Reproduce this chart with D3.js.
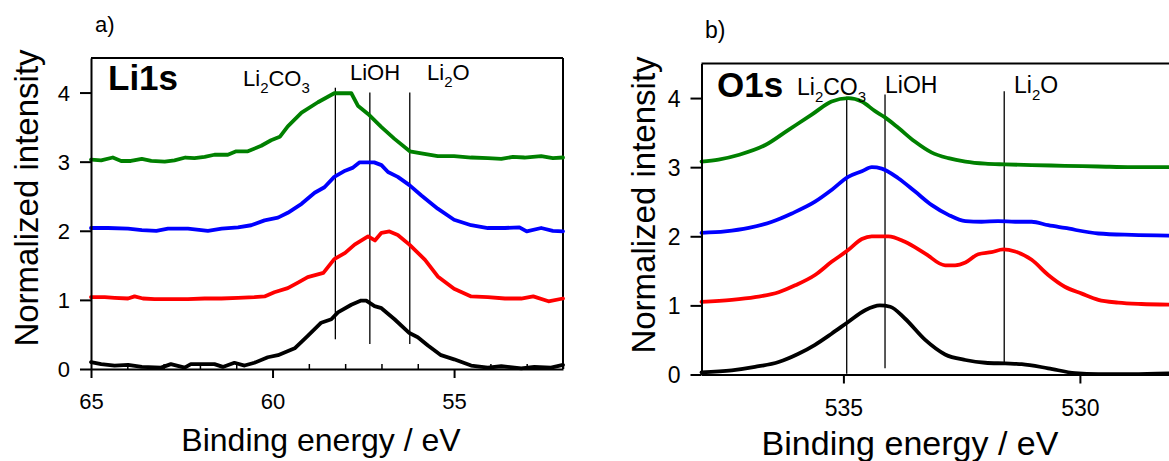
<!DOCTYPE html>
<html>
<head>
<meta charset="utf-8">
<script src="https://cdn.jsdelivr.net/npm/d3@7"></script>
<style>
  html, body { margin: 0; padding: 0; background: #fff; }
  svg { display: block; }
  text { font-family: "Liberation Sans", Arial, sans-serif; fill: #000; }
</style>
</head>
<body>
<svg id="chart" width="1169" height="461"></svg>
<script>
// ---- Li 1s spectra (binding energy in eV, normalized intensity with stacking offset) ----
const li1sBlackE = [65, 64.72, 64.35, 63.98, 63.6, 63.07, 62.8, 62.42, 62.25, 61.87, 61.6, 61.37, 61.05, 60.77, 60.5, 60.13, 59.85, 59.39, 59.03, 58.66, 58.38, 58.2, 57.83, 57.56, 57.42, 57.19, 57.0, 56.64, 56.23, 56.0, 55.72, 55.36, 55.0, 54.53, 54.07, 53.7, 53.15, 52.79, 52.33, 52.0];
const li1sBlackI = [0.10, 0.07, 0.05, 0.06, 0.03, 0.02, 0.07, 0.02, 0.07, 0.07, 0.07, 0.03, 0.09, 0.05, 0.09, 0.17, 0.20, 0.30, 0.48, 0.67, 0.72, 0.82, 0.93, 0.99, 0.99, 0.91, 0.88, 0.72, 0.52, 0.46, 0.34, 0.20, 0.14, 0.05, 0.02, 0.04, 0.01, 0.03, 0.02, 0.06];

const li1sRedE = [65, 64.62, 64.35, 63.98, 63.8, 63.57, 63.25, 62.8, 62.33, 61.87, 61.41, 60.95, 60.5, 60.22, 59.95, 59.58, 59.3, 59.03, 58.6, 58.3, 58.0, 57.74, 57.37, 57.18, 57.0, 56.78, 56.55, 56.23, 55.8, 55.45, 55.0, 54.53, 54.07, 53.6, 53.15, 52.82, 52.4, 52.0];
const li1sRedI = [1.04, 1.04, 1.03, 1.02, 1.05, 1.02, 1.01, 1.01, 1.01, 1.02, 1.02, 1.03, 1.04, 1.05, 1.11, 1.17, 1.25, 1.33, 1.39, 1.59, 1.68, 1.80, 1.92, 1.86, 1.97, 1.99, 1.94, 1.80, 1.58, 1.34, 1.16, 1.05, 1.04, 1.02, 1.02, 1.05, 0.98, 1.02];

const li1sBlueE = [65, 64.53, 63.98, 63.6, 63.2, 62.88, 62.33, 61.78, 61.4, 60.95, 60.59, 60.22, 59.85, 59.58, 59.2, 58.84, 58.57, 58.3, 58.0, 57.8, 57.6, 57.2, 57.0, 56.82, 56.55, 56.23, 55.9, 55.45, 55.0, 54.53, 54.07, 53.6, 53.2, 53.0, 52.6, 52.28, 52.0];
const li1sBlueI = [2.04, 2.04, 2.03, 2.01, 2.0, 2.03, 2.03, 2.0, 2.03, 2.05, 2.08, 2.15, 2.19, 2.26, 2.39, 2.55, 2.63, 2.78, 2.87, 2.91, 2.99, 2.99, 2.95, 2.85, 2.78, 2.66, 2.51, 2.32, 2.16, 2.08, 2.04, 2.04, 2.05, 1.99, 2.04, 2.0, 1.99];

const li1sGreenE = [65, 64.72, 64.4, 64.17, 63.9, 63.6, 63.34, 62.97, 62.7, 62.4, 62.15, 61.87, 61.6, 61.23, 61.0, 60.68, 60.31, 60.04, 59.8, 59.58, 59.2, 58.75, 58.3, 57.83, 57.65, 57.37, 57.0, 56.64, 56.22, 55.9, 55.45, 55.0, 54.53, 54.07, 53.7, 53.38, 53.06, 52.6, 52.28, 52.0];
const li1sGreenI = [3.03, 3.02, 3.06, 3.01, 3.01, 3.04, 3.01, 3.0, 3.02, 3.06, 3.05, 3.07, 3.10, 3.10, 3.15, 3.15, 3.23, 3.31, 3.36, 3.51, 3.71, 3.86, 3.99, 3.99, 3.81, 3.69, 3.50, 3.33, 3.15, 3.12, 3.08, 3.08, 3.06, 3.05, 3.04, 3.07, 3.06, 3.08, 3.05, 3.06];

// ---- O 1s spectra ----
const o1sBlackE = [538, 537.36, 536.87, 536.37, 535.95, 535.6, 535.25, 534.9, 534.54, 534.23, 534.01, 533.7, 533.27, 532.85, 532.42, 532.0, 531.58, 531.23, 530.67, 530.1, 529.61, 528.9, 528.13];
const o1sBlackI = [0.03, 0.06, 0.11, 0.18, 0.30, 0.43, 0.59, 0.76, 0.93, 1.0, 0.98, 0.81, 0.50, 0.29, 0.21, 0.17, 0.16, 0.15, 0.09, 0.02, 0.005, 0.005, 0.015];

const o1sRedE = [538, 537.36, 536.87, 536.37, 536.02, 535.6, 535.25, 534.9, 534.61, 534.4, 534.05, 533.7, 533.27, 532.85, 532.64, 532.42, 532.15, 531.87, 531.62, 531.37, 531.02, 530.67, 530.32, 529.96, 529.61, 529.19, 528.7, 528.13];
const o1sRedI = [1.05, 1.08, 1.12, 1.19, 1.29, 1.44, 1.63, 1.80, 1.96, 2.0, 2.0, 1.92, 1.75, 1.58, 1.58, 1.62, 1.74, 1.77, 1.81, 1.78, 1.66, 1.44, 1.27, 1.17, 1.08, 1.04, 1.02, 1.01];

const o1sBlueE = [538, 537.5, 537.0, 536.51, 536.09, 535.6, 535.25, 534.9, 534.61, 534.4, 534.19, 533.84, 533.49, 533.13, 532.78, 532.42, 532.08, 531.73, 531.37, 531.02, 530.67, 530.32, 529.61, 528.9, 528.13];
const o1sBlueI = [2.05, 2.07, 2.12, 2.21, 2.33, 2.5, 2.67, 2.86, 2.94, 3.0, 2.98, 2.84, 2.65, 2.45, 2.31, 2.22, 2.21, 2.22, 2.21, 2.21, 2.16, 2.12, 2.04, 2.02, 2.01];

const o1sGreenE = [538, 537.64, 537.2, 536.65, 536.16, 535.67, 535.25, 534.9, 534.61, 534.33, 534.12, 533.84, 533.49, 533.13, 532.78, 532.42, 532.0, 531.58, 531.02, 530.32, 529.61, 528.9, 528.13];
const o1sGreenI = [3.08, 3.11, 3.18, 3.32, 3.54, 3.76, 3.95, 4.0, 3.95, 3.81, 3.72, 3.57, 3.37, 3.21, 3.13, 3.08, 3.05, 3.04, 3.03, 3.02, 3.01, 3.0, 3.0];

const seriesColors = ["#000000", "#ff0000", "#0000ff", "#008000"];

// ---- reference binding energies for the marker lines ----
const compounds = ["Li2CO3", "LiOH", "Li2O"];
const li1sRefE = [58.27, 57.32, 56.22];
const li1sRefTop = [4.07, 4.0, 4.0];
const li1sRefBottom = [0.43, 0.36, 0.36];
const o1sRefE = [534.93, 534.12, 531.6];
const o1sRefTop = [4.02, 4.05, 4.1];
const o1sRefBottom = [0.01, 0.09, 0.15];

// ---- axis ticks ----
const yTicks = [0, 1, 2, 3, 4];
const li1sMajorTicks = [65, 60, 55];
const li1sMinorTicks = [64, 63, 62, 61, 59, 58, 57, 56, 54, 53, 52];
const o1sMajorTicks = [535, 530];

const svg = d3.select("#chart");

function zip(es, is) { return es.map((e, i) => [e, is[i]]); }

function drawPanel(cfg) {
  const g = svg.append("g");
  const x = d3.scaleLinear().domain(cfg.xDomain).range([cfg.left, cfg.right]);
  const y = d3.scaleLinear().domain([0, 4.5]).range([cfg.bottom, cfg.top]);

  // frame
  g.append("line").attr("x1", cfg.left).attr("x2", cfg.frameRight)
    .attr("y1", cfg.top).attr("y2", cfg.top)
    .attr("stroke", "#000").attr("stroke-width", 2);
  if (cfg.closeRight) {
    g.append("line").attr("x1", cfg.right).attr("x2", cfg.right)
      .attr("y1", cfg.top).attr("y2", cfg.bottom)
      .attr("stroke", "#000").attr("stroke-width", 2);
  }

  // reference lines
  cfg.refE.forEach((e, i) => {
    g.append("line")
      .attr("x1", x(e)).attr("x2", x(e))
      .attr("y1", y(cfg.refTop[i])).attr("y2", y(cfg.refBottom[i]))
      .attr("stroke", "#000").attr("stroke-width", 1.3);
  });

  // spectra
  const line = d3.line().x(d => x(d[0])).y(d => y(d[1])).curve(cfg.curve);
  cfg.series.forEach((s, i) => {
    g.append("path").datum(s)
      .attr("d", line)
      .attr("fill", "none")
      .attr("stroke", seriesColors[i])
      .attr("stroke-width", 3.8)
      .attr("stroke-linejoin", "round")
      .attr("stroke-linecap", "round");
  });

  // y axis
  const yAxis = g.append("g").attr("transform", `translate(${cfg.left},0)`)
    .call(d3.axisLeft(y).tickValues(yTicks).tickFormat(d3.format("d"))
      .tickSize(11).tickSizeOuter(0).tickPadding(cfg.yPad));
  yAxis.select(".domain").attr("stroke-width", 2);
  yAxis.selectAll(".tick line").attr("stroke-width", 2);
  yAxis.selectAll(".tick text").style("font-size", cfg.tickFont + "px")
    .style("font-family", "'Liberation Sans', Arial, sans-serif").attr("dy", "0.36em");

  // x axis (major ticks outward)
  const xAxis = g.append("g").attr("transform", `translate(0,${cfg.bottom})`)
    .call(d3.axisBottom(x).tickValues(cfg.majorTicks).tickFormat(d3.format("d"))
      .tickSize(9).tickSizeOuter(0).tickPadding(cfg.xPad));
  xAxis.select(".domain").attr("stroke-width", 2);
  xAxis.selectAll(".tick line").attr("stroke-width", 2);
  xAxis.selectAll(".tick text").style("font-size", cfg.tickFont + "px")
    .style("font-family", "'Liberation Sans', Arial, sans-serif");

  // minor ticks pointing inward
  if (cfg.minorTicks.length) {
    const minor = g.append("g").attr("transform", `translate(0,${cfg.bottom})`)
      .call(d3.axisTop(x).tickValues(cfg.minorTicks).tickFormat("").tickSize(5).tickSizeOuter(0));
    minor.select(".domain").remove();
    minor.selectAll(".tick line").attr("stroke-width", 1.5);
  }

  // panel label, core level
  g.append("text").attr("x", cfg.tagX).attr("y", cfg.tagY)
    .style("font-size", cfg.tagFont + "px").text(cfg.tag);
  g.append("text").attr("x", cfg.coreX).attr("y", cfg.coreY)
    .style("font-size", "35px").style("font-weight", "bold").text(cfg.core);

  // compound labels
  const f = cfg.labelFont;
  cfg.labels.forEach(lb => {
    const t = g.append("text").attr("x", lb.x).attr("y", lb.y).style("font-size", f + "px");
    const sub = Math.round(f * 0.66);
    const shift = f * 0.32;
    const parts = {
      "Li2CO3": [["Li", 0], ["2", 1], ["CO", 0], ["3", 1]],
      "LiOH": [["LiOH", 0]],
      "Li2O": [["Li", 0], ["2", 1], ["O", 0]]
    }[lb.name];
    let level = 0;
    parts.forEach(([txt, isSub]) => {
      const ts = t.append("tspan").text(txt);
      if (isSub) ts.style("font-size", sub + "px");
      const target = isSub ? shift : 0;
      if (target !== level) { ts.attr("dy", target - level); level = target; }
    });
  });

  // axis titles
  g.append("text")
    .attr("x", cfg.xTitleX).attr("y", cfg.xTitleY)
    .attr("text-anchor", "middle")
    .style("font-size", cfg.xTitleFont + "px")
    .text("Binding energy / eV");
  g.append("text")
    .attr("transform", `translate(${cfg.yTitleX},${cfg.yTitleY}) rotate(-90)`)
    .attr("text-anchor", "middle")
    .style("font-size", cfg.yTitleFont + "px")
    .text("Normalized intensity");

  return x;
}

drawPanel({
  xDomain: [65, 52], left: 91, right: 563, frameRight: 563, closeRight: true,
  top: 58, bottom: 369,
  curve: d3.curveLinear,
  series: [zip(li1sBlackE, li1sBlackI), zip(li1sRedE, li1sRedI), zip(li1sBlueE, li1sBlueI), zip(li1sGreenE, li1sGreenI)],
  refE: li1sRefE, refTop: li1sRefTop, refBottom: li1sRefBottom,
  majorTicks: li1sMajorTicks, minorTicks: li1sMinorTicks,
  tickFont: 22, yPad: 10, xPad: 15,
  tag: "a)", tagX: 95, tagY: 32, tagFont: 22,
  core: "Li1s", coreX: 108, coreY: 90,
  labelFont: 22,
  labels: [
    { name: "Li2CO3", x: 243, y: 86 },
    { name: "LiOH", x: 350, y: 80 },
    { name: "Li2O", x: 427, y: 80 }
  ],
  xTitleFont: 32, yTitleFont: 33,
  xTitleX: 321, xTitleY: 451, yTitleX: 38, yTitleY: 198
});

drawPanel({
  xDomain: [538, 528], left: 701.5, right: 1174.5, frameRight: 1169, closeRight: false,
  top: 63.5, bottom: 374.5,
  curve: d3.curveMonotoneX,
  series: [zip(o1sBlackE, o1sBlackI), zip(o1sRedE, o1sRedI), zip(o1sBlueE, o1sBlueI), zip(o1sGreenE, o1sGreenI)],
  refE: o1sRefE, refTop: o1sRefTop, refBottom: o1sRefBottom,
  majorTicks: o1sMajorTicks, minorTicks: [],
  tickFont: 23, yPad: 10, xPad: 16,
  tag: "b)", tagX: 705, tagY: 38, tagFont: 23,
  core: "O1s", coreX: 717, coreY: 97,
  labelFont: 23,
  labels: [
    { name: "Li2CO3", x: 797, y: 95 },
    { name: "LiOH", x: 885, y: 93 },
    { name: "Li2O", x: 1014, y: 93 }
  ],
  xTitleFont: 34, yTitleFont: 33,
  xTitleX: 910, xTitleY: 455, yTitleX: 655, yTitleY: 205
});
</script>
</body>
</html>
